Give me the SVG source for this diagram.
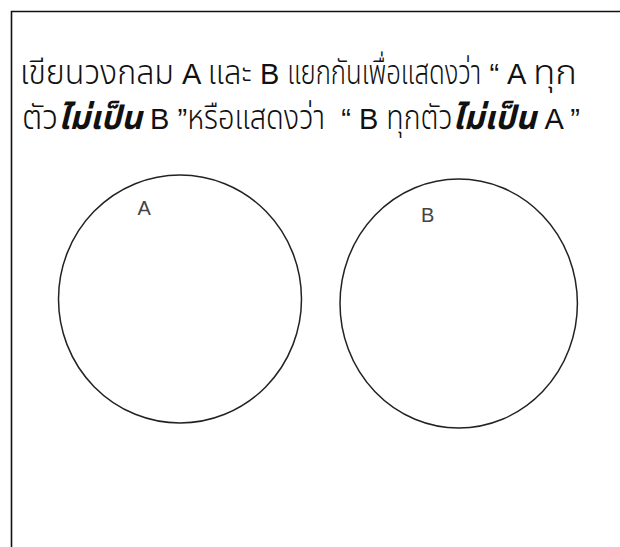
<svg xmlns="http://www.w3.org/2000/svg" width="620" height="547" viewBox="0 0 620 547">
<style>
.t{font-family:"Noto Sans Thai","Noto Sans","DejaVu Sans",sans-serif;font-size:33px;font-weight:300;fill:#111;white-space:pre;}
.l{font-family:"Liberation Sans","DejaVu Sans",sans-serif;font-size:29px;font-weight:normal;}
.b{font-weight:bold;font-style:italic;}
.lbl{font-family:"Liberation Sans","DejaVu Sans",sans-serif;font-size:20px;fill:#444;}
.c{fill:none;stroke:#222;stroke-width:1.5;}
.frame{fill:none;stroke:#111;stroke-width:1.6;}
</style>
<rect width="620" height="547" fill="#fff"/>
<g id="frame">
<path class="frame" d="M620,11.5 H11.5 V547"/>
</g>
<g id="title">
<text class="t" x="20" y="84"><tspan textLength="154" lengthAdjust="spacingAndGlyphs">เขียนวงกลม</tspan><tspan class="l"> A </tspan><tspan textLength="44" lengthAdjust="spacingAndGlyphs">และ</tspan><tspan class="l"> B </tspan><tspan textLength="194" lengthAdjust="spacingAndGlyphs">แยกกันเพื่อแสดงว่า</tspan><tspan class="l"> “ A </tspan><tspan textLength="44" lengthAdjust="spacingAndGlyphs">ทุก</tspan></text>
<text class="t" x="22" y="129"><tspan textLength="36" lengthAdjust="spacingAndGlyphs">ตัว</tspan><tspan class="b" textLength="84" lengthAdjust="spacingAndGlyphs">ไม่เป็น</tspan><tspan class="l"> B ”</tspan><tspan textLength="138" lengthAdjust="spacingAndGlyphs">หรือแสดงว่า</tspan><tspan class="l">  “ B </tspan><tspan textLength="66" lengthAdjust="spacingAndGlyphs">ทุกตัว</tspan><tspan class="b" textLength="84" lengthAdjust="spacingAndGlyphs">ไม่เป็น</tspan><tspan class="l"> A ”</tspan></text>
</g>
<g id="circleA">
<ellipse class="c" cx="180" cy="299" rx="121.5" ry="124"/>
<text class="lbl" x="137.5" y="215">A</text>
</g>
<g id="circleB">
<ellipse class="c" cx="458.7" cy="303.5" rx="118.7" ry="124.5"/>
<text class="lbl" x="421" y="221.5">B</text>
</g>
<g id="connectors"></g>
</svg>
